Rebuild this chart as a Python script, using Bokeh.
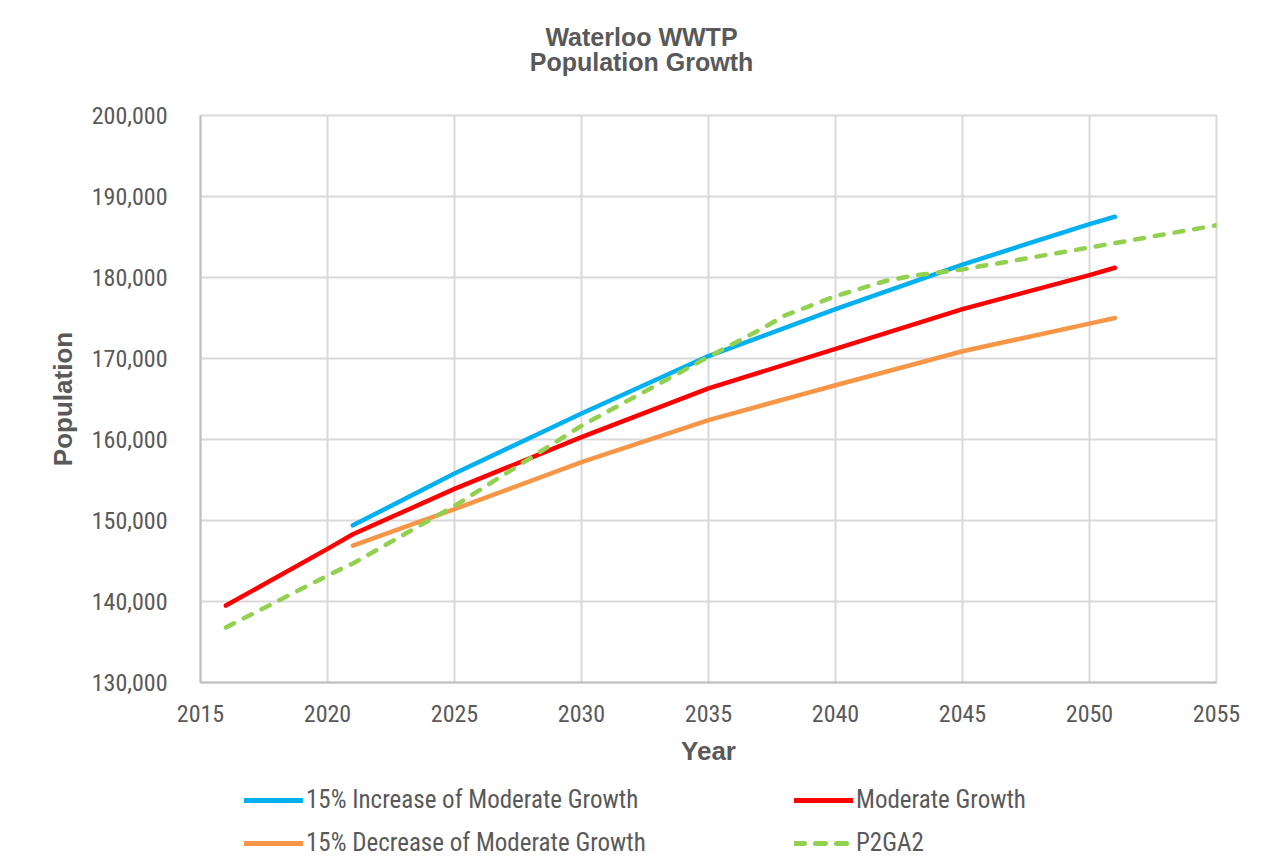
from bokeh.plotting import figure
from bokeh.layouts import column
from bokeh.models import (Range1d, NumeralTickFormatter, FixedTicker, Legend, LegendItem, Label)
from bokeh.embed import file_html
from bokeh.resources import INLINE

# ---- data ----
inc_years = [2021, 2025, 2030, 2035, 2040, 2045, 2050, 2051]
inc_pop = [149400, 155800, 163200, 170300, 176100, 181600, 186600, 187500]

mod_years = [2016, 2020, 2021, 2025, 2030, 2035, 2040, 2045, 2050, 2051]
mod_pop = [139500, 146500, 148300, 153900, 160300, 166300, 171200, 176100, 180300, 181200]

dec_years = [2021, 2025, 2030, 2035, 2040, 2045, 2050, 2051]
dec_pop = [146900, 151400, 157200, 162400, 166700, 170900, 174300, 175000]

p2_years = [2016, 2020, 2021, 2025, 2030, 2035, 2037, 2038, 2040, 2042, 2043, 2045, 2050, 2055]
p2_pop = [136800, 143200, 144700, 151800, 161700, 170200, 173500, 175300, 177700, 179600, 180200, 181000, 183700, 186450]

x_ticks = [2015, 2020, 2025, 2030, 2035, 2040, 2045, 2050, 2055]
y_ticks = [130000, 140000, 150000, 160000, 170000, 180000, 190000, 200000]

title_lines = ["Waterloo WWTP", "Population Growth"]
series_names = ["15% Increase of Moderate Growth", "Moderate Growth",
                "15% Decrease of Moderate Growth", "P2GA2"]
colors = ["#00B0F0", "#FF0000", "#F79646", "#92D050"]
dashes = ["solid", "solid", "solid", "9 11"]
key_dashes = ["solid", "solid", "solid", "10 11"]

TXT = "#595959"
GRID = "#D9D9D9"
TICKFONT = "Roboto Condensed"
BOLDFONT = "Liberation Sans"
W = 1276
TH, MH, LH = 80, 694, 88


def bare(height):
    f = figure(width=W, height=height, output_backend="svg", toolbar_location=None,
               x_range=Range1d(0, 1), y_range=Range1d(0, 1),
               x_axis_type=None, y_axis_type=None,
               min_border_left=0, min_border_right=0, min_border_top=0, min_border_bottom=0)
    f.outline_line_color = None
    f.background_fill_color = "white"
    f.border_fill_color = "white"
    f.grid.visible = False
    return f


# ---- title (column aligns this frame with the chart frame, left edge at x=200) ----
tf = bare(TH)
for i, t in enumerate(title_lines):
    tf.add_layout(Label(x=441, y=[44, 19][i], x_units="screen", y_units="screen", text=t,
                        text_align="center", text_baseline="middle", text_color=TXT,
                        text_font=BOLDFONT, text_font_style="bold", text_font_size="25px"))

# ---- main chart ----
p = figure(width=W, height=MH, output_backend="svg", toolbar_location=None,
           x_range=Range1d(2015, 2055), y_range=Range1d(130000, 200000),
           min_border_left=200, min_border_right=60, min_border_top=115 - TH, min_border_bottom=92)
p.background_fill_color = "white"
p.border_fill_color = "white"
p.outline_line_color = GRID
p.outline_line_width = 2

for ax in (p.xaxis[0], p.yaxis[0]):
    ax.major_tick_line_color = None
    ax.minor_tick_line_color = None
    ax.axis_line_color = "#BFBFBF"
    ax.axis_line_width = 2
    ax.major_label_text_color = TXT
    ax.major_label_text_font = TICKFONT
    ax.major_label_text_font_size = "24px"
    ax.axis_label_text_color = TXT
    ax.axis_label_text_font = BOLDFONT
    ax.axis_label_text_font_style = "bold"
    ax.axis_label_text_font_size = "26px"

p.xaxis.ticker = FixedTicker(ticks=x_ticks)
p.yaxis.ticker = FixedTicker(ticks=y_ticks)
p.yaxis.formatter = NumeralTickFormatter(format="0,0")
p.xaxis.axis_label = "Year"
p.yaxis.axis_label = "Population"
p.yaxis.major_label_standoff = 27
p.xaxis.major_label_standoff = 16
p.yaxis.axis_label_standoff = 11
p.xaxis.axis_label_standoff = 11

p.xgrid.ticker = FixedTicker(ticks=x_ticks)
p.ygrid.ticker = FixedTicker(ticks=y_ticks)
p.grid.grid_line_color = GRID
p.grid.grid_line_width = 2

series = [(inc_years, inc_pop), (mod_years, mod_pop), (dec_years, dec_pop), (p2_years, p2_pop)]
for (xs, ys), c, d in zip(series, colors, dashes):
    p.line(xs, ys, line_color=c, line_width=4.5, line_dash=d, line_cap="round", line_join="round")

# ---- legend strip: same series, drawn outside this strip's view so only the key shows ----
lf = bare(LH)
proxies = [lf.line(xs, ys, line_color=c, line_width=5, line_dash=d, line_cap="round")
           for (xs, ys), c, d in zip(series, colors, key_dashes)]


def mk_legend(idx, ybot):
    lg = Legend(items=[LegendItem(label=series_names[i], renderers=[proxies[i]]) for i in idx],
                location=(44, ybot), orientation="horizontal",
                glyph_width=59, glyph_height=22, label_text_font=TICKFONT,
                label_text_font_size="25px", label_text_color=TXT, label_standoff=3,
                label_width=350, spacing=138, padding=0, margin=0, border_line_color=None,
                background_fill_alpha=0)
    lf.add_layout(lg, "center")


mk_legend([0, 1], 48)
mk_legend([2, 3], 5)

open("out.html", "w").write(file_html(column(tf, p, lf, spacing=0), INLINE))
